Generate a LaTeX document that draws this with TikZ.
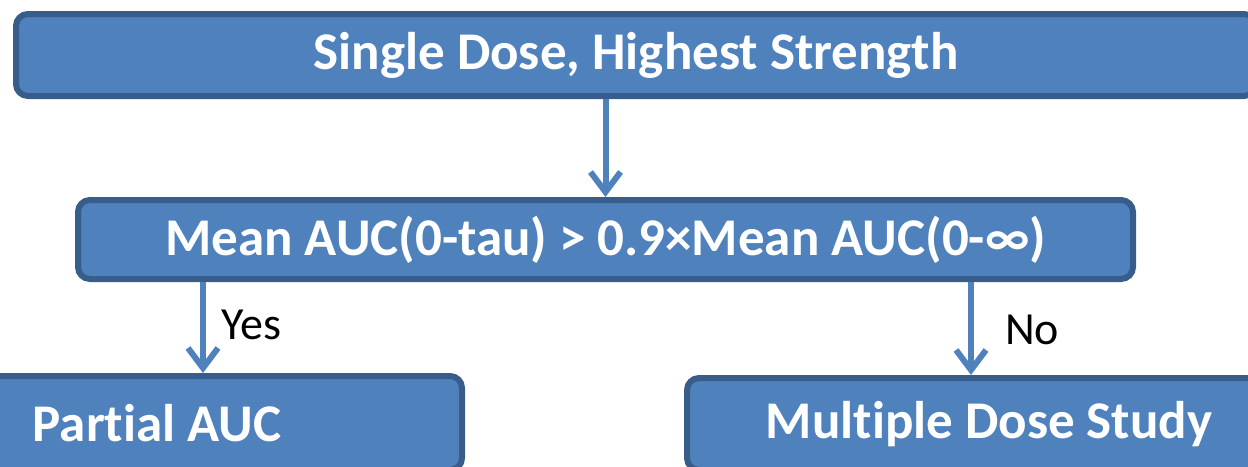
\documentclass[tikz,border=0pt]{standalone}
\usepackage{fontspec}
\setmainfont[Ligatures=NoCommon]{Carlito}
\usetikzlibrary{arrows.meta}
\definecolor{boxfill}{HTML}{4F81BD}
\definecolor{boxdraw}{HTML}{385D8A}
\tikzset{
  box/.style={draw=boxdraw, fill=boxfill, line width=6pt, rounded corners=12pt,
    anchor=north west, inner sep=0pt, text=white,
    font=\fontsize{53}{60}\selectfont\bfseries},
  arr/.style={draw=boxfill, line width=6pt,
    -{Straight Barb[length=20pt,width=30pt,line width=6pt]}},
  lbl/.style={font=\fontsize{46}{52}\selectfont, text=black, inner sep=0pt}
}
\begin{document}
\begin{tikzpicture}[x=1pt,y=-1pt]
\useasboundingbox (0,0) rectangle (1248,466);
\clip (0,0) rectangle (1248,466);
\node[box, minimum width=1240pt, minimum height=82pt] (top) at (13,11) {Single Dose, Highest Strength};
\node[box, minimum width=1055pt, minimum height=79pt] (mid) at (75,197) {Mean AUC(0-tau) > 0.9×Mean AUC(0-∞)};
\node[box, minimum width=610pt, minimum height=94pt] (pa) at (-151,373) {Partial AUC};
\node[box, minimum width=604pt, minimum height=92pt] (md) at (684,375) {Multiple Dose Study};
\coordinate (yx) at (203,0);
\coordinate (nx) at (971,0);
\draw[arr] (top.south -| mid.north) -- (mid.north);
\draw[arr] (mid.south -| yx) -- (pa.north -| yx);
\draw[arr] (mid.south -| nx) -- (md.north -| nx);
\node[lbl] (yes) at (251,325) {Yes};
\node[lbl] (no) at (1032,330) {No};
\end{tikzpicture}
\end{document}
